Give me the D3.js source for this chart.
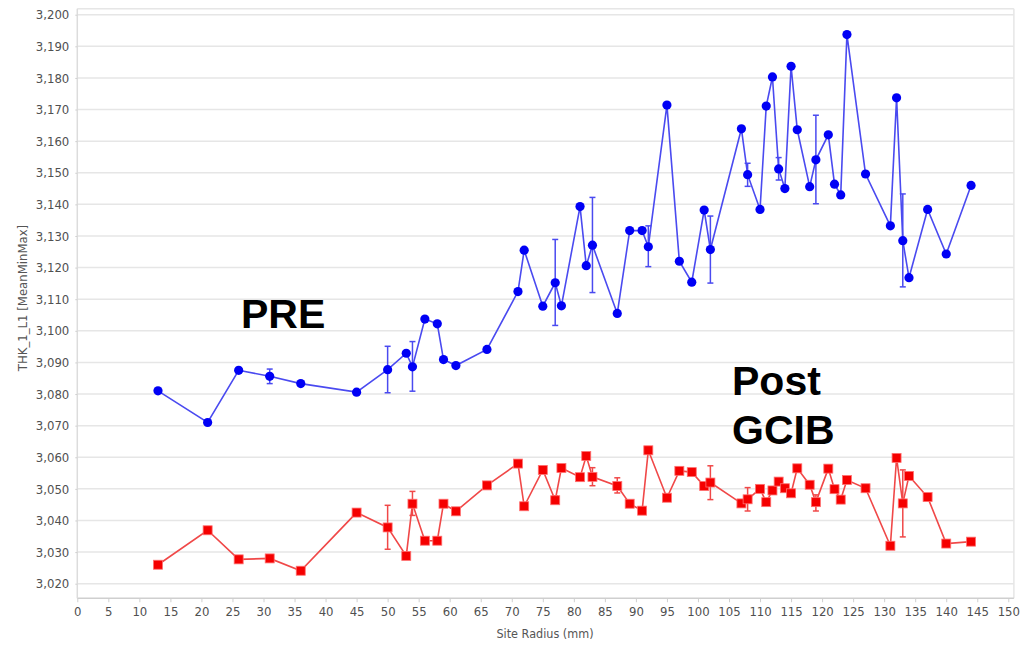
<!DOCTYPE html>
<html><head><meta charset="utf-8">
<script src="https://cdn.jsdelivr.net/npm/d3@7"></script>
<style>
html,body{margin:0;padding:0;background:#fff;}
svg{display:block;}
</style></head>
<body>
<svg id="c" width="1020" height="648"></svg>
<script>
// ---- data ----
const radius = [13,21,26,31,36,45,50,53,54,56,58,59,61,66,71,72,75,77,78,81,82,83,87,89,91,92,95,97,99,101,102,107,108,110,111,112,113,114,115,116,118,119,121,122,123,124,127,131,132,133,134,137,140,144];
const preMean = [3081.0,3071.0,3087.5,3085.6,3083.3,3080.6,3087.7,3092.9,3088.6,3103.7,3102.2,3090.9,3089.0,3094.1,3112.4,3125.5,3107.8,3115.2,3107.9,3139.3,3120.6,3127.1,3105.5,3131.7,3131.7,3126.6,3171.4,3122.0,3115.4,3138.2,3125.7,3163.9,3149.4,3138.4,3171.1,3180.3,3151.2,3145.0,3183.7,3163.6,3145.6,3154.1,3162.0,3146.4,3143.0,3193.7,3149.6,3133.2,3173.7,3128.5,3116.8,3138.4,3124.3,3146.0];
// error bars [radius, min, max]
const preErr = [[31,3083.3,3087.9],[50,3080.4,3095.1],[54,3080.9,3096.6],[77,3101.7,3128.9],[83,3112.1,3142.2],[92,3120.3,3133.2],[102,3115.1,3136.3],[108,3145.7,3153.0],[113,3147.7,3154.8],[119,3140.2,3168.2],[133,3113.9,3143.3]];
const postMean = [3026.0,3036.9,3027.7,3028.0,3024.1,3042.5,3037.8,3028.8,3045.3,3033.6,3033.6,3045.3,3042.9,3051.1,3058.0,3044.5,3056.0,3046.4,3056.6,3053.7,3060.4,3053.8,3050.9,3045.3,3043.1,3062.2,3047.2,3055.7,3055.3,3050.9,3052.0,3045.4,3046.7,3050.0,3045.8,3049.5,3052.3,3050.2,3048.6,3056.5,3051.3,3045.8,3056.4,3049.9,3046.6,3052.8,3050.2,3032.0,3059.8,3045.4,3054.1,3047.4,3032.7,3033.3];
const postErr = [[50,3030.9,3044.8],[54,3041.6,3049.2],[77,3045.5,3047.8],[83,3051.0,3056.7],[87,3048.7,3053.5],[102,3046.6,3057.3],[108,3043.0,3050.4],[119,3043.0,3048.1],[133,3034.8,3056.0]];
const xTicks = d3.range(0,151,5);
const yTicks = d3.range(3020,3201,10);

// ---- scales ----
const svg = d3.select("#c");
const x = d3.scaleLinear().domain([0,150]).range([77.3,1008.3]);
const y = d3.scaleLinear().domain([3020,3200]).range([583.7,14.7]);
const pLeft = x(0), pRight = x(150.9), pTop = y(3201.9), pBottom = y(3015.4);

const fmt = d3.format(",");
const tickFont = "'DejaVu Sans Condensed','DejaVu Sans',sans-serif";

// grid
svg.append("g").selectAll("line").data(yTicks).join("line")
  .attr("x1",pLeft).attr("x2",pRight).attr("y1",d=>y(d)).attr("y2",d=>y(d))
  .attr("stroke","#e6e6e6").attr("stroke-width",1.5);
// frame
svg.append("line").attr("x1",pLeft).attr("x2",pRight).attr("y1",pTop).attr("y2",pTop).attr("stroke","#e6e6e6").attr("stroke-width",1.5);
svg.append("line").attr("x1",pRight).attr("x2",pRight).attr("y1",pTop).attr("y2",pBottom).attr("stroke","#e6e6e6").attr("stroke-width",1.5);

// axes
const xAxis = d3.axisBottom(x).tickValues(xTicks).tickSize(4).tickPadding(5).tickFormat(d3.format("d"));
const gx = svg.append("g").attr("transform",`translate(0,${pBottom})`).call(xAxis);
gx.select(".domain").attr("d",`M${pLeft},0H${pRight}`).attr("stroke","#cfcfcf").attr("stroke-width",1.5);
gx.selectAll(".tick line").attr("stroke","#cfcfcf");
gx.selectAll("text").attr("fill","#505050").style("font-family",tickFont).style("font-size","13px");

const yAxis = d3.axisLeft(y).tickValues(yTicks).tickSize(2).tickPadding(6).tickFormat(fmt);
const gy = svg.append("g").attr("transform",`translate(${pLeft},0)`).call(yAxis);
gy.select(".domain").attr("d",`M0,${pTop}V${pBottom}`).attr("stroke","#dcdcdc").attr("stroke-width",1.5);
gy.selectAll(".tick line").attr("stroke","#d0d0d0");
gy.selectAll("text").attr("fill","#505050").style("font-family",tickFont).style("font-size","13px");

// axis titles
svg.append("text").attr("x",545).attr("y",638).attr("text-anchor","middle")
  .attr("fill","#555").style("font-family",tickFont).style("font-size","12.5px").text("Site Radius (mm)");
svg.append("text").attr("transform",`translate(27,298) rotate(-90)`).attr("text-anchor","middle")
  .attr("fill","#555").style("font-family",tickFont).style("font-size","13px").text("THK_1_L1 [MeanMinMax]");

function drawSeries(means, errs, lineColor, markColor, shape){
  const pts = radius.map((r,i)=>[r,means[i]]);
  const g = svg.append("g");
  const eg = g.append("g").attr("stroke",lineColor).attr("stroke-width",1.5);
  errs.forEach(([r,lo,hi])=>{
    eg.append("line").attr("x1",x(r)).attr("x2",x(r)).attr("y1",y(lo)).attr("y2",y(hi));
    eg.append("line").attr("x1",x(r)-3).attr("x2",x(r)+3).attr("y1",y(lo)).attr("y2",y(lo));
    eg.append("line").attr("x1",x(r)-3).attr("x2",x(r)+3).attr("y1",y(hi)).attr("y2",y(hi));
  });
  g.append("path").datum(pts)
    .attr("d",d3.line().x(d=>x(d[0])).y(d=>y(d[1])))
    .attr("fill","none").attr("stroke",lineColor).attr("stroke-width",1.6);
  if(shape==="circle"){
    g.append("g").selectAll("circle").data(pts).join("circle")
      .attr("cx",d=>x(d[0])).attr("cy",d=>y(d[1])).attr("r",4.6)
      .attr("fill",markColor);
  } else {
    g.append("g").selectAll("rect").data(pts).join("rect")
      .attr("x",d=>x(d[0])-4.5).attr("y",d=>y(d[1])-4.5).attr("width",9).attr("height",9)
      .attr("fill",markColor).attr("stroke","#ff7070").attr("stroke-width",0.8);
  }
}
drawSeries(preMean, preErr, "#4a4af0", "#0000f5", "circle");
drawSeries(postMean, postErr, "#f04848", "#f50000", "square");

// annotations
const annFont = "'Liberation Sans',Arial,sans-serif";
svg.append("text").attr("x",241).attr("y",328).style("font-family",annFont).style("font-weight","bold").style("font-size","41px").attr("fill","#000").text("PRE");
svg.append("text").attr("x",732).attr("y",395).style("font-family",annFont).style("font-weight","bold").style("font-size","41px").attr("fill","#000").text("Post");
svg.append("text").attr("x",732).attr("y",444).style("font-family",annFont).style("font-weight","bold").style("font-size","41px").attr("fill","#000").text("GCIB");
</script>
</body></html>
